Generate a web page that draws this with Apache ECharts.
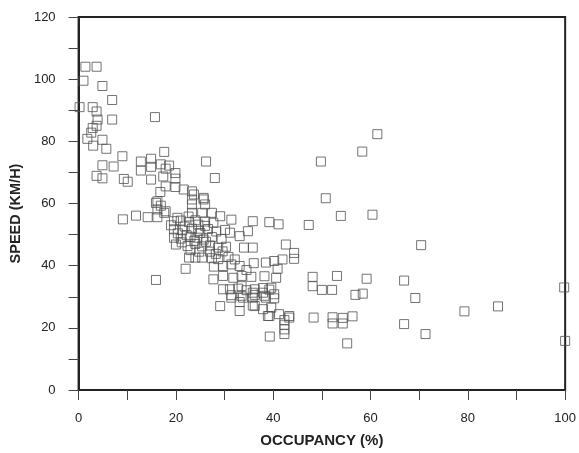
<!DOCTYPE html>
<html>
<head>
<meta charset="utf-8">
<script src="https://cdn.jsdelivr.net/npm/echarts@6/dist/echarts.min.js"></script>
<style>
html,body{margin:0;padding:0;background:#fff;}
#chart{width:579px;height:453px;}
</style>
</head>
<body>
<div id="chart"></div>
<script>
// Occupancy (%) , Speed (km/h) pairs
const freeFlowPoints = [
  [1.4,104],[3.7,104],[1,99.5],[4.9,97.8],[6.9,93.3],[0.2,91],[2.9,91],[3.7,89.6],
  [3.9,87],[6.9,87],[15.7,87.8],[3.7,85],[2.9,84.3],[2.6,82.8],[1.8,80.8],[4.9,80.5],
  [3,78.6],[5.7,77.6],[9,75.2],[12.8,73.5],[14.9,74.4],[17.6,76.6],[26.2,73.5],[4.9,72.3],
  [7.2,71.9],[12.8,70.6],[14.9,71.8],[16.9,72.6],[18.6,72.2],[17.9,71.2],[19.9,69.8],[3.7,68.9],
  [4.9,68.1],[9.3,67.9],[10.1,67],[14.9,67.7],[17.4,68.7],[19.9,68],[28,68.2],[16.8,63.7],
  [17.9,65.5],[19.9,65.3],[21.6,64.5],[23.3,63.9],[23.7,62.9],[25.7,61.8],[16.2,60.7],[16.9,59.3],
  [23.3,61.3],[23.3,59.7],[25.7,61.3],[26,59.7],[15.9,60.2]
];
const congestedPoints = [
  [9.1,54.9],[11.8,56.1],[14.2,55.6],[16.2,55.6],[17.6,57],[17.9,57.5],[16.2,58.1],[20.3,55.4],
  [23.3,57],[25.4,57],[27.4,57],[29.1,55.9],[35.8,54.3],[39.2,54],[41.1,53.3],[47.3,53.1],
  [34.8,51.1],[33.1,49.5],
  [19.6,54.3],[21,54.5],[22.7,54],[24,54.6],[26,54.2],[27.7,53.8],[31.4,54.8],
  [19.6,51.7],[21.3,51.4],[23.3,51.9],[24.6,51.2],[26.6,51.8],[28.3,51],[30.1,51.5],
  [19.6,49],[21,48.7],[23,49.3],[24.4,49],[25.7,48.4],[27.4,49.2],[29.4,48.6],[31.1,50.6],
  [20,46.8],[22.4,46.3],[24,47],[25.4,46.2],[27,46.5],[28.7,45.8],[30.3,46.1],
  [22.7,42.6],[24,42.6],[25.4,42.6],[27.4,42.4],[28.7,42.1],[30.8,42.8],[32.1,42],
  [19,53],[20.4,50.4],[21.8,52.6],[22.2,49.8],[23.8,48],[25,50.5],[26.2,47.7],[27,44.5],
  [28.2,43.8],[29.6,44.6],[21.2,47.5],[23,45],[24.8,44.5],[26,52.8],[22.6,55.8],[24.6,53.2],
  [34,45.8],[35.8,45.8],[42.6,46.8],[44.3,44.1],[44.3,42.2],
  [38.5,41],[40.2,41.5],[41.9,42],[36,40.8],[22,39],[15.9,35.4],
  [27.8,39.7],[29.7,39.9],[31.4,40.4],[33.1,39.9],[34.5,38.6],
  [27.7,35.6],[29.7,36.7],[31.8,36.1],[33.5,36.7],[35.5,36.4],[38.2,36.6],[40.9,39],[40.6,36.1],
  [31.1,32.4],[32.8,32.6],[34.5,32.1],[36.2,32.4],[37.9,32.8],[39.2,32.3],
  [29.7,32.4],[33.5,33.4],[35.8,31.3],[37.9,31.3],[39.6,32.9],
  [31.4,30.5],[33.5,30.3],[36.2,30.6],[38.2,30.3],[40.2,30.8],
  [31.4,29.7],[33.8,29.7],[35.8,29.7],[38.5,29.7],[40.2,29.5],
  [29.1,27],[33.1,28.3],[33.1,25.4],[36.2,27],[37.9,26],[39.6,26.5],[35.8,27.2],
  [39.2,23.8],[41.2,24.4],[43.3,23.8],[38.9,23.8],[43.3,23.3],
  [42.3,22.5],[42.3,21],[42.3,19.5],[42.3,18],[39.3,17.2]
];
const scatteredPoints = [
  [61.4,82.3],[58.3,76.7],[49.8,73.5],[50.8,61.7],[53.9,56],[60.4,56.4],[70.4,46.6],
  [48.1,36.4],[48.1,33.4],[50,32.2],[52.1,32.2],[53.1,36.7],[59.2,35.8],[56.9,30.6],[58.4,31],
  [66.9,35.2],[69.2,29.6],[48.3,23.3],[52.2,23.4],[52.2,21.4],[54.3,23.2],[54.3,21.4],[56.3,23.7],
  [55.2,15],[66.9,21.2],[71.3,18],[79.3,25.3],[86.2,26.9],[99.8,33],[100,15.8]
];
const xTickValues = [0,20,40,60,80,100];
const yTickValues = [0,20,40,60,80,100,120];

const chart = echarts.init(document.getElementById('chart'), null, {renderer:'canvas'});
const markerStyle = {color:'rgba(255,255,255,0)', borderColor:'#505050', borderWidth:1};
const mkSeries = (d) => ({type:'scatter', data:d, symbol:'rect', symbolSize:9, itemStyle:markerStyle, silent:true, animation:false, clip:false});
const font = 'Liberation Sans, Arial, Helvetica, sans-serif';

chart.setOption({
  animation:false,
  backgroundColor:'#fff',
  grid:{left:75, right:11, top:17, bottom:61, show:true, borderColor:'#222', borderWidth:2, backgroundColor:'transparent'},
  xAxis:{
    type:'value', min:0, max:100, interval:20,
    name:'OCCUPANCY (%)', nameLocation:'middle', nameGap:43,
    nameTextStyle:{fontFamily:font, fontSize:15, fontWeight:'bold', color:'#222'},
    axisLine:{show:true, lineStyle:{color:'#222', width:2}},
    axisTick:{show:true, inside:false, length:10, lineStyle:{color:'#444', width:1}},
    minorTick:{show:true, splitNumber:2, length:10, lineStyle:{color:'#444', width:1}},
    axisLabel:{margin:22, fontFamily:font, fontSize:13, color:'#222',
      formatter:(v)=> xTickValues.includes(v) ? String(v) : ''},
    splitLine:{show:false}
  },
  yAxis:{
    type:'value', min:0, max:120, interval:20,
    name:'SPEED (KM/H)', nameLocation:'middle', nameGap:51,
    nameTextStyle:{fontFamily:font, fontSize:14.5, fontWeight:'bold', color:'#222', padding:[0,20,0,0]},
    axisLine:{show:true, lineStyle:{color:'#222', width:2}},
    axisTick:{show:true, inside:false, length:10, lineStyle:{color:'#444', width:1}},
    minorTick:{show:true, splitNumber:2, length:10, lineStyle:{color:'#444', width:1}},
    axisLabel:{margin:23, fontFamily:font, fontSize:13, color:'#222',
      formatter:(v)=> yTickValues.includes(v) ? String(v) : ''},
    splitLine:{show:false}
  },
  series:[mkSeries(freeFlowPoints), mkSeries(congestedPoints), mkSeries(scatteredPoints)]
});
</script>
</body>
</html>
